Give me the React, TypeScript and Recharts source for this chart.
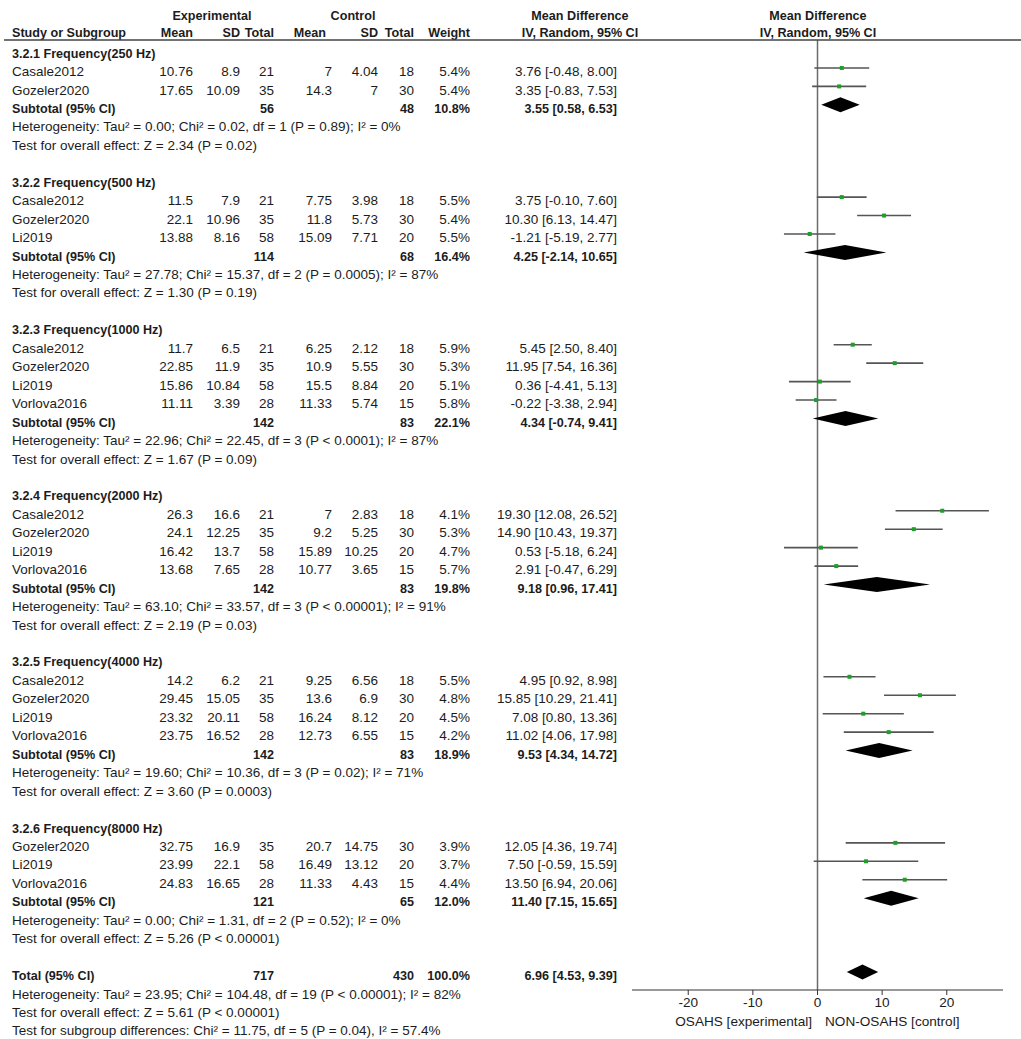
import React from 'react';
import { ComposedChart, Scatter, ErrorBar, XAxis, YAxis, ReferenceLine } from 'recharts';

const groupTitles = [
  '3.2.1 Frequency(250 Hz)',
  '3.2.2 Frequency(500 Hz)',
  '3.2.3 Frequency(1000 Hz)',
  '3.2.4 Frequency(2000 Hz)',
  '3.2.5 Frequency(4000 Hz)',
  '3.2.6 Frequency(8000 Hz)',
];

const studyNames = [
  ['Casale2012', 'Gozeler2020'],
  ['Casale2012', 'Gozeler2020', 'Li2019'],
  ['Casale2012', 'Gozeler2020', 'Li2019', 'Vorlova2016'],
  ['Casale2012', 'Gozeler2020', 'Li2019', 'Vorlova2016'],
  ['Casale2012', 'Gozeler2020', 'Li2019', 'Vorlova2016'],
  ['Gozeler2020', 'Li2019', 'Vorlova2016'],
];

const expMean = [[10.76, 17.65], [11.5, 22.1, 13.88], [11.7, 22.85, 15.86, 11.11], [26.3, 24.1, 16.42, 13.68], [14.2, 29.45, 23.32, 23.75], [32.75, 23.99, 24.83]];
const expSD = [[8.9, 10.09], [7.9, 10.96, 8.16], [6.5, 11.9, 10.84, 3.39], [16.6, 12.25, 13.7, 7.65], [6.2, 15.05, 20.11, 16.52], [16.9, 22.1, 16.65]];
const expN = [[21, 35], [21, 35, 58], [21, 35, 58, 28], [21, 35, 58, 28], [21, 35, 58, 28], [35, 58, 28]];
const ctrlMean = [[7, 14.3], [7.75, 11.8, 15.09], [6.25, 10.9, 15.5, 11.33], [7, 9.2, 15.89, 10.77], [9.25, 13.6, 16.24, 12.73], [20.7, 16.49, 11.33]];
const ctrlSD = [[4.04, 7], [3.98, 5.73, 7.71], [2.12, 5.55, 8.84, 5.74], [2.83, 5.25, 10.25, 3.65], [6.56, 6.9, 8.12, 6.55], [14.75, 13.12, 4.43]];
const ctrlN = [[18, 30], [18, 30, 20], [18, 30, 20, 15], [18, 30, 20, 15], [18, 30, 20, 15], [30, 20, 15]];
const weights = [[5.4, 5.4], [5.5, 5.4, 5.5], [5.9, 5.3, 5.1, 5.8], [4.1, 5.3, 4.7, 5.7], [5.5, 4.8, 4.5, 4.2], [3.9, 3.7, 4.4]];
const md = [[3.76, 3.35], [3.75, 10.3, -1.21], [5.45, 11.95, 0.36, -0.22], [19.3, 14.9, 0.53, 2.91], [4.95, 15.85, 7.08, 11.02], [12.05, 7.5, 13.5]];
const ciLow = [[-0.48, -0.83], [-0.1, 6.13, -5.19], [2.5, 7.54, -4.41, -3.38], [12.08, 10.43, -5.18, -0.47], [0.92, 10.29, 0.8, 4.06], [4.36, -0.59, 6.94]];
const ciHigh = [[8.0, 7.53], [7.6, 14.47, 2.77], [8.4, 16.36, 5.13, 2.94], [26.52, 19.37, 6.24, 6.29], [8.98, 21.41, 13.36, 17.98], [19.74, 15.59, 20.06]];

const subExpN = [56, 114, 142, 142, 142, 121];
const subCtrlN = [48, 68, 83, 83, 83, 65];
const subWeight = [10.8, 16.4, 22.1, 19.8, 18.9, 12.0];
const subMd = [3.55, 4.25, 4.34, 9.18, 9.53, 11.4];
const subLow = [0.58, -2.14, -0.74, 0.96, 4.34, 7.15];
const subHigh = [6.53, 10.65, 9.41, 17.41, 14.72, 15.65];

const subHet = [
  'Heterogeneity: Tau² = 0.00; Chi² = 0.02, df = 1 (P = 0.89); I² = 0%',
  'Heterogeneity: Tau² = 27.78; Chi² = 15.37, df = 2 (P = 0.0005); I² = 87%',
  'Heterogeneity: Tau² = 22.96; Chi² = 22.45, df = 3 (P < 0.0001); I² = 87%',
  'Heterogeneity: Tau² = 63.10; Chi² = 33.57, df = 3 (P < 0.00001); I² = 91%',
  'Heterogeneity: Tau² = 19.60; Chi² = 10.36, df = 3 (P = 0.02); I² = 71%',
  'Heterogeneity: Tau² = 0.00; Chi² = 1.31, df = 2 (P = 0.52); I² = 0%',
];
const subTest = [
  'Test for overall effect: Z = 2.34 (P = 0.02)',
  'Test for overall effect: Z = 1.30 (P = 0.19)',
  'Test for overall effect: Z = 1.67 (P = 0.09)',
  'Test for overall effect: Z = 2.19 (P = 0.03)',
  'Test for overall effect: Z = 3.60 (P = 0.0003)',
  'Test for overall effect: Z = 5.26 (P < 0.00001)',
];

const totalExpN = 717;
const totalCtrlN = 430;
const totalWeight = 100.0;
const totalMd = 6.96;
const totalLow = 4.53;
const totalHigh = 9.39;
const totalNotes = [
  'Heterogeneity: Tau² = 23.95; Chi² = 104.48, df = 19 (P < 0.00001); I² = 82%',
  'Test for overall effect: Z = 5.61 (P < 0.00001)',
  'Test for subgroup differences: Chi² = 11.75, df = 5 (P = 0.04), I² = 57.4%',
];

const xTicks = [-20, -10, 0, 10, 20];
const xDomain = [-28.7, 28.7];

// layout
const W = 1021;
const H = 1039;
const FONT = '"Liberation Sans", Arial, sans-serif';
const FS = 13.5;
const FS_BOLD = 12.6;
const ROW_H = 18.45;
const TEXT0 = 53;
const MARK0 = 49.5;
const PLOT_TOP = 40;
const AXIS_Y = 990;
const PLOT_L = 632;
const PLOT_R = 1003;
const INK = '#1c1c1c';

const textY = (row: number) => TEXT0 + ROW_H * row + 4.6;
const yDomain = [(PLOT_TOP - MARK0) / ROW_H, (AXIS_Y - MARK0) / ROW_H];

const ci = (m: number, lo: number, hi: number) => `${m.toFixed(2)} [${lo.toFixed(2)}, ${hi.toFixed(2)}]`;

// build rows
type Line = { row: number; x: number; text: string; anchor?: 'start' | 'middle' | 'end'; bold?: boolean };
const lines: Line[] = [];
const points: { x: number; y: number; err: number[] }[] = [];
const diamonds: { row: number; lo: number; hi: number }[] = [];

const cols = { label: 12, eMean: 193, eSD: 240, eN: 274, cMean: 332, cSD: 378, cN: 414, w: 470, ci: 617 };

let r = 0;
groupTitles.forEach((title, g) => {
  lines.push({ row: r, x: cols.label, text: title, bold: true });
  studyNames[g].forEach((name, s) => {
    const row = r + 1 + s;
    lines.push({ row, x: cols.label, text: name });
    lines.push({ row, x: cols.eMean, text: String(expMean[g][s]), anchor: 'end' });
    lines.push({ row, x: cols.eSD, text: String(expSD[g][s]), anchor: 'end' });
    lines.push({ row, x: cols.eN, text: String(expN[g][s]), anchor: 'end' });
    lines.push({ row, x: cols.cMean, text: String(ctrlMean[g][s]), anchor: 'end' });
    lines.push({ row, x: cols.cSD, text: String(ctrlSD[g][s]), anchor: 'end' });
    lines.push({ row, x: cols.cN, text: String(ctrlN[g][s]), anchor: 'end' });
    lines.push({ row, x: cols.w, text: `${weights[g][s].toFixed(1)}%`, anchor: 'end' });
    lines.push({ row, x: cols.ci, text: ci(md[g][s], ciLow[g][s], ciHigh[g][s]), anchor: 'end' });
    points.push({ x: md[g][s], y: row, err: [md[g][s] - ciLow[g][s], ciHigh[g][s] - md[g][s]] });
  });
  const n = studyNames[g].length;
  const sr = r + n + 1;
  lines.push({ row: sr, x: cols.label, text: 'Subtotal (95% CI)', bold: true });
  lines.push({ row: sr, x: cols.eN, text: String(subExpN[g]), anchor: 'end', bold: true });
  lines.push({ row: sr, x: cols.cN, text: String(subCtrlN[g]), anchor: 'end', bold: true });
  lines.push({ row: sr, x: cols.w, text: `${subWeight[g].toFixed(1)}%`, anchor: 'end', bold: true });
  lines.push({ row: sr, x: cols.ci, text: ci(subMd[g], subLow[g], subHigh[g]), anchor: 'end', bold: true });
  diamonds.push({ row: sr, lo: subLow[g], hi: subHigh[g] });
  lines.push({ row: sr + 1, x: cols.label, text: subHet[g] });
  lines.push({ row: sr + 2, x: cols.label, text: subTest[g] });
  r += n + 5;
});

lines.push({ row: r, x: cols.label, text: 'Total (95% CI)', bold: true });
lines.push({ row: r, x: cols.eN, text: String(totalExpN), anchor: 'end', bold: true });
lines.push({ row: r, x: cols.cN, text: String(totalCtrlN), anchor: 'end', bold: true });
lines.push({ row: r, x: cols.w, text: `${totalWeight.toFixed(1)}%`, anchor: 'end', bold: true });
lines.push({ row: r, x: cols.ci, text: ci(totalMd, totalLow, totalHigh), anchor: 'end', bold: true });
diamonds.push({ row: r, lo: totalLow, hi: totalHigh });
totalNotes.forEach((t, i) => lines.push({ row: r + 1 + i, x: cols.label, text: t }));

const Square = (p: any) => <rect x={p.cx - 2} y={p.cy - 2} width={4} height={4} fill="#1e9e2a" />;

const Diamond = (p: any) => {
  const mid = (p.x1 + p.x2) / 2;
  const y = p.y1;
  return <polygon points={`${p.x1},${y} ${mid},${y - 7.5} ${p.x2},${y} ${mid},${y + 7.5}`} fill="#000" stroke="none" />;
};

const Header = () => {
  const t = (x: number, y: number, s: string, anchor: 'start' | 'middle' | 'end' = 'start') => (
    <text x={x} y={y} textAnchor={anchor} fontWeight="bold" fontSize={FS_BOLD}>{s}</text>
  );
  return (
    <g>
      {t(212, 20, 'Experimental', 'middle')}
      {t(353, 20, 'Control', 'middle')}
      {t(580, 20, 'Mean Difference', 'middle')}
      {t(818, 20, 'Mean Difference', 'middle')}
      {t(cols.label, 37, 'Study or Subgroup')}
      {t(cols.eMean, 37, 'Mean', 'end')}
      {t(cols.eSD, 37, 'SD', 'end')}
      {t(cols.eN, 37, 'Total', 'end')}
      {t(326, 37, 'Mean', 'end')}
      {t(cols.cSD, 37, 'SD', 'end')}
      {t(cols.cN, 37, 'Total', 'end')}
      {t(cols.w, 37, 'Weight', 'end')}
      {t(580, 37, 'IV, Random, 95% CI', 'middle')}
      {t(818, 37, 'IV, Random, 95% CI', 'middle')}
      <line x1={4} x2={W} y1={PLOT_TOP} y2={PLOT_TOP} stroke="#444" strokeWidth={1.3} />
    </g>
  );
};

export default function App() {
  return (
    <div style={{ position: 'absolute', left: 0, top: 0, width: W, height: H, background: '#fff' }}>
      <ComposedChart
        width={W}
        height={H}
        margin={{ top: PLOT_TOP, right: W - PLOT_R, bottom: 0, left: PLOT_L }}
      >
        <XAxis
          type="number"
          dataKey="x"
          domain={xDomain}
          allowDataOverflow
          ticks={xTicks}
          height={H - AXIS_Y}
          tickSize={5}
          tickMargin={2}
          stroke="#333"
          tick={{ fontSize: 13.6, fill: INK, fontFamily: FONT }}
        />
        <YAxis type="number" dataKey="y" domain={yDomain} reversed hide allowDataOverflow />
        <ReferenceLine x={0} stroke="#6b6b6b" strokeWidth={1.5} ifOverflow="visible" />
        <Scatter data={points} shape={Square} isAnimationActive={false}>
          <ErrorBar dataKey="err" direction="x" width={0} stroke="#555" strokeWidth={1.6} />
        </Scatter>
        {diamonds.map((d, i) => (
          <ReferenceLine
            key={`dm-${i}`}
            segment={[{ x: d.lo, y: d.row }, { x: d.hi, y: d.row }]}
            ifOverflow="visible"
            shape={Diamond}
          />
        ))}
      </ComposedChart>
      <svg
        width={W}
        height={H}
        style={{ position: 'absolute', left: 0, top: 0, pointerEvents: 'none' }}
        fontFamily={FONT}
        fontSize={FS}
        fill={INK}
      >
        <Header />
        {lines.map((l, i) => (
          <text
            key={i}
            x={l.x}
            y={textY(l.row)}
            textAnchor={l.anchor || 'start'}
            fontWeight={l.bold ? 'bold' : 'normal'}
            fontSize={l.bold ? FS_BOLD : FS}
          >
            {l.text}
          </text>
        ))}
        <text x={812} y={1026} textAnchor="end" fontSize={13.6}>OSAHS [experimental]</text>
        <text x={825} y={1026} textAnchor="start" fontSize={13.6}>NON-OSAHS [control]</text>
      </svg>
    </div>
  );
}
